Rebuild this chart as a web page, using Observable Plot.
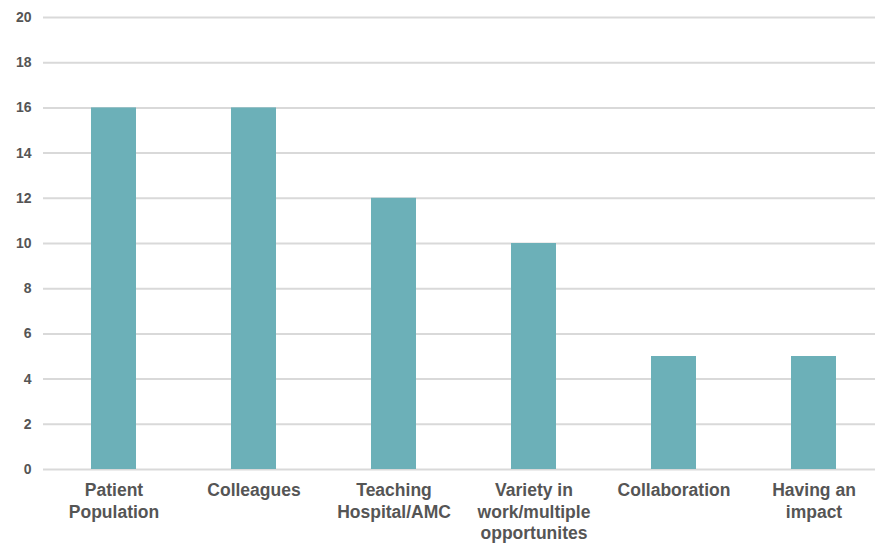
<!DOCTYPE html>
<html>
<head>
<meta charset="utf-8">
<script src="https://cdn.jsdelivr.net/npm/d3@7"></script>
<script src="https://cdn.jsdelivr.net/npm/@observablehq/plot@0.6"></script>
<style>
  html, body { margin: 0; padding: 0; background: #fff; overflow: hidden; }
  svg { font-family: "Liberation Sans", Arial, sans-serif; }
</style>
</head>
<body>
<div id="chart"></div>
<script>
const categories = ["Patient Population", "Colleagues", "Teaching Hospital/AMC", "Variety in work/multiple opportunites", "Collaboration", "Having an impact"];
const tickLabels = ["Patient\nPopulation", "Colleagues", "Teaching\nHospital/AMC", "Variety in\nwork/multiple\nopportunites", "Collaboration", "Having an\nimpact"];
const values = [16, 16, 12, 10, 5, 5];
const yTicks = [0, 2, 4, 6, 8, 10, 12, 14, 16, 18, 20];

const data = categories.map((c, i) => ({category: c, value: values[i]}));
const labelOf = new Map(categories.map((c, i) => [c, tickLabels[i]]));

const chart = Plot.plot({
  width: 875,
  height: 543,
  marginTop: 17,
  marginBottom: 74,
  marginLeft: 43,
  marginRight: -8,
  style: {background: "#fff", overflow: "visible"},
  x: {domain: categories, paddingInner: 0.68, paddingOuter: 0.34, label: null},
  y: {domain: [0, 20], label: null},
  marks: [
    Plot.ruleY(yTicks, {stroke: "#d9d9d9", strokeWidth: 2}),
    Plot.barY(data, {x: "category", y: "value", fill: "#6cb0b8"}),
    Plot.axisY({ticks: yTicks, tickSize: 0, tickPadding: 12, fontSize: 14, fontWeight: "bold", fill: "#555", label: null}),
    Plot.axisX({tickSize: 0, tickPadding: 11, fontSize: 17.5, fontWeight: "bold", fill: "#555", lineHeight: 1.24, tickFormat: d => labelOf.get(d), label: null})
  ]
});
document.getElementById("chart").appendChild(chart);
</script>
</body>
</html>
